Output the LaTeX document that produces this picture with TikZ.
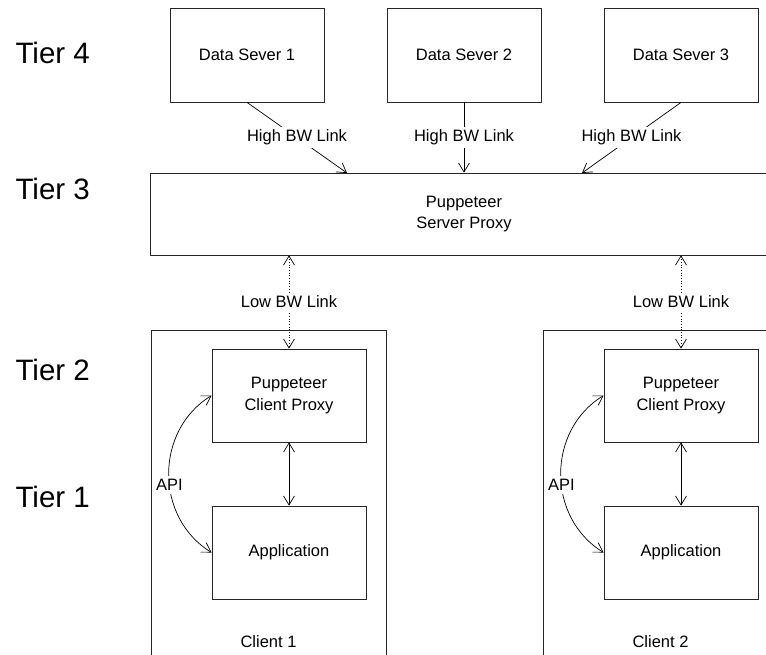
\documentclass[tikz,border=0pt]{standalone}
\usepackage{fontspec}
\setmainfont{Liberation Sans}
\usetikzlibrary{arrows.meta}

\begin{document}
\begin{tikzpicture}[
        x=1pt, y=-1pt,
        every node/.style={font=\fontsize{16.5}{21.5}\selectfont, align=center},
        box/.style={draw=black!85, line width=0.8pt, rectangle, inner sep=0pt},
        server/.style={box, minimum width=154pt, minimum height=94pt},
        proxy/.style={box, minimum width=154pt, minimum height=93pt},
        client/.style={box, minimum width=235pt, minimum height=350pt},
        tier/.style={font=\fontsize{29.5}{35}\selectfont, anchor=west},
        lab/.style={fill=white, inner sep=3pt},
        tip/.tip={Straight Barb[length=9pt, width=11pt]},
        link/.style={line width=0.7pt, -tip},
        dlink/.style={line width=0.7pt, tip-tip},
        lowlink/.style={dlink, dotted}
    ]
    \useasboundingbox (0,0) rectangle (766,654);
    \clip (0,0) rectangle (766,654);

    % tiers
    \node[tier] (t4) at (12,53) {Tier 4};
    \node[tier] (t3) at (12,189) {Tier 3};
    \node[tier] (t2) at (12,370) {Tier 2};
    \node[tier] (t1) at (12,497) {Tier 1};

    % data servers
    \node[server] (ds1) at (247,55) {Data Sever 1};
    \node[server] (ds2) at (464,55) {Data Sever 2};
    \node[server] (ds3) at (681,55) {Data Sever 3};

    \node[box, minimum width=628pt, minimum height=82pt] (sp) at (464,214) {Puppeteer\\Server Proxy};

    % clients
    \node[client] (c1) at (268.5,505) {};
    \node[client] (c2) at (660.5,505) {};
    \node (c1lab) at (268.5,642) {Client 1};
    \node (c2lab) at (660.5,642) {Client 2};

    \node[proxy] (cp1) at (289,395.5) {Puppeteer\\Client Proxy};
    \node[proxy] (app1) at (289,552.5) {Application};
    \node[proxy] (cp2) at (681,395.5) {Puppeteer\\Client Proxy};
    \node[proxy] (app2) at (681,552.5) {Application};

    % links
    \coordinate (in1) at (347,173);
    \coordinate (in3) at (582,173);
    \draw[link] (ds1.south) -- node[lab]{High BW Link} (in1);
    \draw[link] (ds2.south) -- node[lab]{High BW Link} (sp.north);
    \draw[link] (ds3.south) -- node[lab]{High BW Link} (in3);

    \draw[lowlink] (sp.south -| cp1.north) -- node[lab]{Low BW Link} (cp1.north);
    \draw[lowlink] (sp.south -| cp2.north) -- node[lab]{Low BW Link} (cp2.north);

    \draw[dlink] (cp1) -- (app1);
    \draw[dlink] (cp2) -- (app2);

    \draw[dlink] (cp1.west) .. controls +(-57,35) and +(-57,-35) .. node[lab, pos=0.56]{API} (app1.west);
    \draw[dlink] (cp2.west) .. controls +(-57,35) and +(-57,-35) .. node[lab, pos=0.56]{API} (app2.west);
\end{tikzpicture}
\end{document}
